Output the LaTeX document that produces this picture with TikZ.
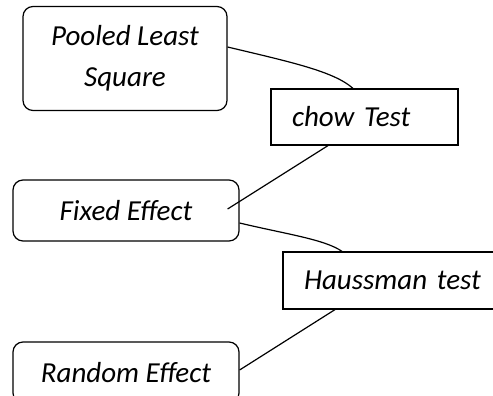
\documentclass[tikz,border=0pt]{standalone}
\usepackage{fontspec}
\setmainfont{Carlito}
\begin{document}
\begin{tikzpicture}[x=1pt, y=-1pt, line width=1.2pt,
        model/.style={draw, rounded corners=10pt, align=center, inner sep=0pt},
        test/.style={draw, align=left, inner xsep=21pt, inner ysep=0pt}]
        \useasboundingbox (0, 0) rectangle (493, 396);
        \fontsize{29}{41}\selectfont\itshape

        \node[model, minimum width=204pt, minimum height=104pt] at (125, 58.5)  (pls)    {Pooled Least\\Square};
        \node[test, text width=145pt, minimum height=56pt]      at (364.5, 117) (chow)   {chow Test};
        \node[model, minimum width=226pt, minimum height=61pt]  at (126, 210.5) (fixed)  {Fixed Effect};
        \node[test, text width=177pt, minimum height=57pt]      at (392.5, 280.5) (haus) {Haussman test};
        \node[model, minimum width=226pt, minimum height=61pt]  at (126, 372.5) (random) {Random Effect};

        % links between the models and the tests
        \draw ([yshift=11.5pt]pls.east) .. controls +(63, 15) and +(-19, -17) .. ([xshift=-11.5pt]chow.north);
        \draw ([xshift=-36.5pt]chow.south) -- ([xshift=-12pt, yshift=1.5pt]fixed.east);
        \draw ([yshift=-12.5pt]fixed.east) .. controls +(46, 11) and +(-17, -12) .. ([xshift=-50.5pt]haus.north);
        \draw ([xshift=-57.5pt]haus.south) -- ([yshift=2.5pt]random.east);

    \end{tikzpicture}
\end{document}
